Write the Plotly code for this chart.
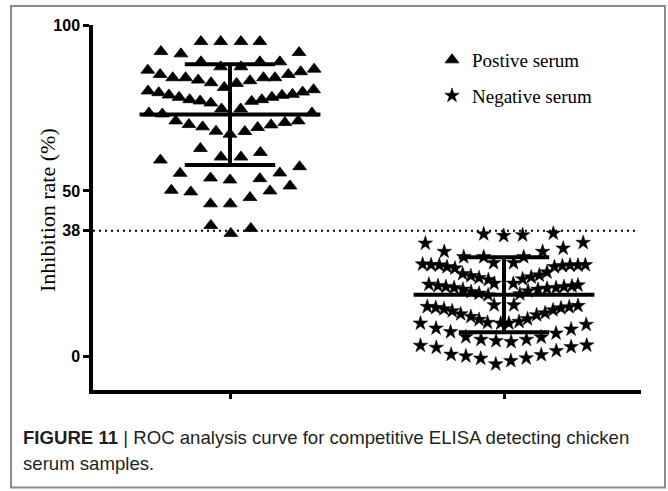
import plotly.graph_objects as go

# ---------------- data ----------------
groups = ["Postive serum", "Negative serum"]
group_pos = [0, 1]

# Positive serum: beeswarm horizontal offset (category units) and inhibition rate (%)
pos_offset = [-0.106, -0.034, 0.040, 0.109,
              -0.252, -0.179, 0.252,
              -0.106, -0.034, 0.040, 0.109, 0.182,
              -0.300, -0.255, -0.209, -0.162, -0.116, -0.069, -0.021, 0.024, 0.073, 0.122, 0.164, 0.213, 0.258, 0.307,
              -0.299, -0.260, -0.223, -0.186, -0.147, -0.109, -0.070, -0.031, 0.039, 0.079, 0.116, 0.153, 0.190, 0.228, 0.265, 0.305,
              -0.296, -0.247, -0.198, -0.150, -0.100, -0.051, 0.000, 0.054, 0.101, 0.150, 0.200, 0.249, 0.299,
              -0.254, -0.108, -0.033, 0.040, 0.111,
              -0.182, -0.071, 0.000, 0.109, 0.182, 0.254,
              -0.214, -0.143, 0.073, 0.146, 0.219,
              -0.071, 0.001,
              -0.070, 0.003, 0.076]
pos_value = [95.0, 95.0, 95.0, 95.0,
             92.0, 91.3, 91.7,
             88.9, 87.4, 87.4, 88.9, 88.9,
             86.4, 85.1, 84.1, 84.1, 83.4, 82.6, 81.2, 82.4, 83.2, 84.1, 84.1, 85.1, 85.9, 86.7,
             80.1, 79.6, 78.9, 78.2, 77.5, 77.1, 76.5, 74.7, 74.7, 77.0, 77.5, 78.2, 78.8, 79.1, 79.8, 80.5,
             73.5, 73.2, 71.1, 70.0, 69.3, 68.0, 67.1, 67.9, 69.1, 69.9, 70.6, 71.1, 73.5,
             59.3, 62.8, 60.2, 60.2, 61.6,
             55.3, 53.9, 53.3, 53.7, 55.4, 57.3,
             50.2, 49.7, 48.0, 50.0, 51.5,
             46.1, 46.1,
             39.6, 37.2, 38.7]

# Negative serum
neg_offset = [-0.074, -0.001, 0.068, 0.180,
              -0.287, -0.218, -0.147, -0.074, -0.038, 0.035, 0.072, 0.141, 0.216, 0.289,
              -0.297, -0.266, -0.236, -0.208, -0.179, -0.151, -0.121, -0.091, -0.057, -0.036,
              0.034, 0.068, 0.099, 0.129, 0.157, 0.184, 0.213, 0.241, 0.270, 0.297,
              -0.274, -0.241, -0.212, -0.182, -0.150, -0.120, -0.091, -0.058,
              0.058, 0.088, 0.124, 0.157, 0.190, 0.219, 0.248, 0.270,
              -0.280, -0.249, -0.219, -0.189, -0.158, -0.121, -0.091, -0.060, -0.036, 0.036,
              -0.012, 0.018, 0.055, 0.086, 0.119, 0.150, 0.179, 0.208, 0.238, 0.270,
              -0.305, -0.248, -0.195, -0.139, -0.084, -0.029, 0.026, 0.082, 0.136, 0.190, 0.245, 0.300,
              -0.305, -0.247, -0.193, -0.139, -0.085, -0.030, 0.025, 0.081, 0.136, 0.191, 0.245, 0.302]
neg_value = [37.0, 36.5, 36.7, 37.2,
             34.2, 31.7, 30.1, 30.1, 28.3, 28.3, 30.1, 31.7, 32.7, 34.4,
             27.9, 27.7, 27.6, 27.1, 26.7, 25.0, 24.4, 23.8, 23.2, 22.1,
             22.1, 23.4, 24.0, 24.6, 25.5, 27.1, 27.4, 27.6, 27.6, 27.7,
             21.8, 21.4, 21.1, 20.8, 20.3, 19.6, 19.1, 18.6,
             18.9, 19.8, 20.3, 20.6, 20.8, 21.1, 21.3, 21.6,
             15.1, 14.8, 14.4, 13.8, 12.9, 12.1, 11.2, 10.3, 15.6, 15.6,
             10.1, 10.1, 10.6, 11.4, 12.6, 13.2, 14.1, 14.7, 15.0, 15.4,
             10.1, 8.6, 7.5, 6.0, 5.2, 4.8, 4.5, 5.2, 5.9, 7.1, 8.3, 9.7,
             3.4, 2.8, 0.7, 0.2, -0.5, -2.2, -1.2, -0.4, 0.6, 1.8, 3.0, 3.5]

group_mean = [73.0, 18.7]
group_sd = [15.2, 11.3]
cutoff = 38

ytick_vals = [0, 38, 50, 100]
ytick_text = ["0", "38", "50", "100"]
y_title = "Inhibition rate (%)"
caption_bold = "FIGURE 11"
caption_rest = " | ROC analysis curve for competitive ELISA detecting chicken"
caption_line2 = "serum samples."

# ---------------- layout geometry ----------------
W, H = 668, 491
ML, MR, MT, MB = 93, 27, 25, 101
PW, PH = W - ML - MR, H - MT - MB


def px(xp):
    return (xp - ML) / PW


def py(yp):
    return (H - MB - yp) / PH


MEAN_HALF = 0.33
CAP_HALF = 0.165

fig = go.Figure()

fig.add_trace(go.Scatter(
    x=[group_pos[0] + o for o in pos_offset], y=pos_value, mode="markers",
    name=groups[0], legendgroup="pos",
    marker=dict(symbol="triangle-up", size=12, color="black",
                line=dict(width=0.8, color="black")),
))
fig.add_trace(go.Scatter(
    x=[group_pos[1] + o for o in neg_offset], y=neg_value, mode="markers",
    name=groups[1], legendgroup="neg",
    marker=dict(symbol="star", size=11, color="black",
                line=dict(width=0.5, color="black")),
))

# mean and SD bars
for c, m, s in zip(group_pos, group_mean, group_sd):
    xs = [c - MEAN_HALF, c + MEAN_HALF, None, c, c, None,
          c - CAP_HALF, c + CAP_HALF, None, c - CAP_HALF, c + CAP_HALF]
    ys = [m, m, None, m - s, m + s, None, m + s, m + s, None, m - s, m - s]
    fig.add_trace(go.Scatter(x=xs, y=ys, mode="lines", showlegend=False,
                             hoverinfo="skip",
                             line=dict(color="black", width=4)))

shapes = [
    dict(type="line", xref="paper", yref="y", x0=0, x1=px(638), y0=cutoff, y1=cutoff,
         line=dict(color="black", width=2, dash="2px,4px")),
    dict(type="rect", xref="paper", yref="paper", x0=px(11), x1=px(665),
         y0=py(487.5), y1=py(6), line=dict(color="#8c8c8c", width=2), layer="below"),
]

annotations = [
    dict(xref="paper", yref="paper", x=px(47), y=py(210), text=y_title,
         textangle=-90, showarrow=False, xanchor="center", yanchor="middle",
         font=dict(family="Liberation Serif", size=22, color="black")),
    dict(xref="paper", yref="paper", x=px(21), y=py(437),
         text="<b>" + caption_bold + "</b>" + caption_rest,
         showarrow=False, xanchor="left", yanchor="middle",
         font=dict(family="Liberation Sans", size=18.6, color="#231f20")),
    dict(xref="paper", yref="paper", x=px(21), y=py(463), text=caption_line2,
         showarrow=False, xanchor="left", yanchor="middle",
         font=dict(family="Liberation Sans", size=18.6, color="#231f20")),
]

fig.update_layout(
    width=W, height=H, autosize=False,
    margin=dict(l=ML, r=MR, t=MT, b=MB),
    paper_bgcolor="white", plot_bgcolor="white",
    showlegend=True,
    legend=dict(x=px(432), y=py(41), xanchor="left", yanchor="top",
                bgcolor="rgba(0,0,0,0)", traceorder="grouped", tracegroupgap=8,
                font=dict(family="Liberation Serif", size=19, color="black")),
    shapes=shapes, annotations=annotations,
    xaxis=dict(range=[-0.5, 1.5], showline=True, linewidth=3.5, linecolor="black",
               ticks="outside", tickvals=group_pos, ticktext=["", ""],
               ticklen=5, tickwidth=3, tickcolor="black",
               showgrid=False, zeroline=False, fixedrange=True),
    yaxis=dict(range=[-10, 100], showline=True, linewidth=3.5, linecolor="black",
               ticks="outside", tickvals=ytick_vals, ticktext=ytick_text,
               ticklen=6, tickwidth=3, tickcolor="black",
               tickfont=dict(family="Liberation Sans", size=16, color="black", weight="bold"),
               showgrid=False, zeroline=False, fixedrange=True),
)

fig.write_html("out.html")
